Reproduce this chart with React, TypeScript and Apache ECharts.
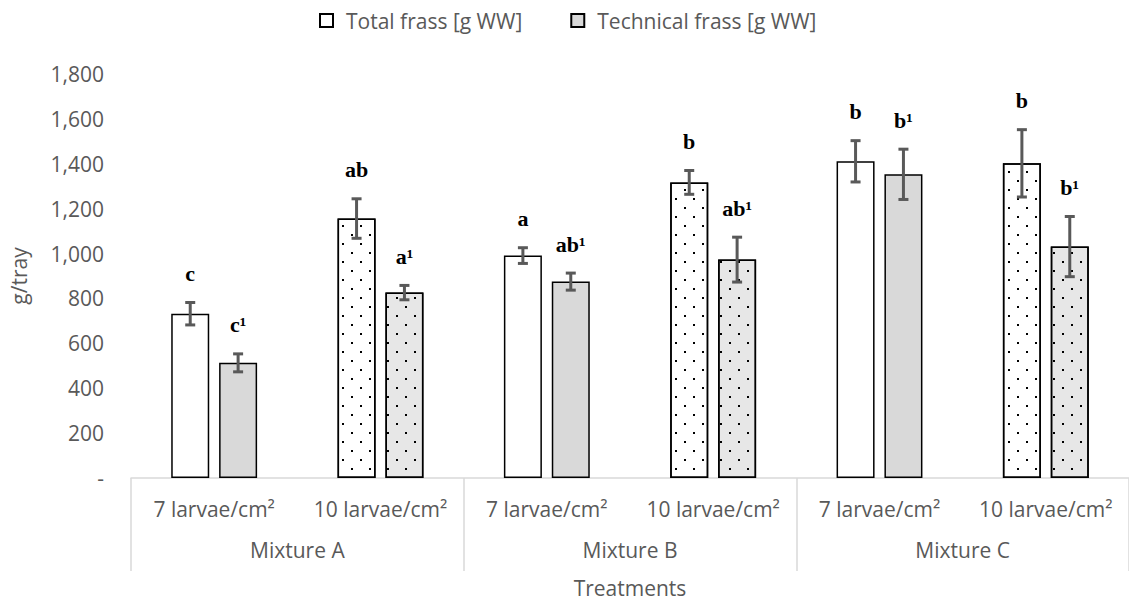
import React, { useEffect, useRef } from "react";
import * as echarts from "echarts";

const densities = ["7 larvae/cm²", "10 larvae/cm²", "7 larvae/cm²", "10 larvae/cm²", "7 larvae/cm²", "10 larvae/cm²"];
const mixtures = ["Mixture A", "Mixture B", "Mixture C"];
const yTicks = { min: 0, max: 1800, interval: 200 };

const totalValues = [732, 1156, 991, 1317, 1411, 1402];
const totalErrors = [50, 88, 35, 53, 92, 150];
const totalLetters = ["c", "ab", "a", "b", "b", "b"];

const techValues = [513, 826, 875, 973, 1353, 1031];
const techErrors = [40, 32, 38, 100, 112, 134];
const techLetters = ["c¹", "a¹", "ab¹", "ab¹", "b¹", "b¹"];

const dottedIdx = [1, 3, 5];

const SANS = "'Open Sans', 'Noto Sans', sans-serif";
const SERIF = "'Liberation Serif', 'DejaVu Serif', serif";
const TXT = "#595959";
const BAR_W = 38;
const BAR_GAP = 0.26;

const decal = {
  symbol: "rect",
  symbolSize: 1,
  color: "#000000",
  dashArrayX: [[1.6, 15.4], [0, 8.5, 1.6, 6.9]],
  dashArrayY: [1.6, 6.9],
  rotation: 0,
};

function barData(values: number[], plain: string, dotted: string) {
  return values.map((v, i) =>
    dottedIdx.includes(i)
      ? { value: v, itemStyle: { color: dotted, decal } }
      : { value: v, itemStyle: { color: plain } }
  );
}

function errSeries(values: number[], errors: number[], letters: string[], sign: number) {
  return {
    type: "custom",
    xAxisIndex: 0,
    yAxisIndex: 0,
    silent: true,
    z: 5,
    data: values.map((v, i) => [i, v, errors[i]]),
    renderItem: (params: any, api: any) => {
      const i = api.value(0);
      const v = api.value(1);
      const e = api.value(2);
      const off = sign * (BAR_W + BAR_W * BAR_GAP) / 2;
      const top = api.coord([i, v + e]);
      const bot = api.coord([i, v - e]);
      const x = top[0] + off;
      const st = { stroke: "#595959", lineWidth: 3 };
      return {
        type: "group",
        children: [
          { type: "line", shape: { x1: x, y1: top[1], x2: x, y2: bot[1] }, style: st },
          { type: "line", shape: { x1: x - 5, y1: top[1], x2: x + 5, y2: top[1] }, style: st },
          { type: "line", shape: { x1: x - 5, y1: bot[1], x2: x + 5, y2: bot[1] }, style: st },
          {
            type: "text",
            x: x,
            y: top[1] - 18,
            style: {
              text: letters[params.dataIndex],
              fontFamily: SERIF,
              fontSize: 22,
              fontWeight: "bold",
              fill: "#000",
              align: "center",
              verticalAlign: "bottom",
            },
          },
        ],
      };
    },
  };
}

export default function App() {
  const ref = useRef<HTMLDivElement>(null);
  useEffect(() => {
    if (!ref.current) return;
    const chart = echarts.init(ref.current, null, { renderer: "svg" });
    chart.setOption({
      animation: false,
      backgroundColor: "#ffffff",
      textStyle: { fontFamily: SANS },
      legend: {
        data: ["Total frass [g WW]", "Technical frass [g WW]"],
        left: 314,
        top: 5,
        itemWidth: 13,
        itemHeight: 13,
        itemGap: 48,
        icon: "rect",
        textStyle: { fontSize: 21, color: TXT, fontFamily: SANS, padding: [0, 0, 0, 8] },
      },
      grid: { left: 129, top: 74, width: 1002, height: 404, containLabel: false },
      xAxis: [
        {
          type: "category",
          data: densities,
          axisLine: { show: true, lineStyle: { color: "#d9d9d9", width: 1.5 } },
          axisTick: { show: false },
          axisLabel: { color: TXT, fontSize: 21, fontFamily: SANS, margin: 20, interval: 0 },
        },
        {
          type: "category",
          data: mixtures,
          position: "bottom",
          axisLine: { show: false },
          axisTick: { show: true, length: 93, lineStyle: { color: "#d9d9d9", width: 1.5 } },
          axisLabel: { color: TXT, fontSize: 21, fontFamily: SANS, margin: 61, interval: 0 },
          name: "Treatments",
          nameLocation: "middle",
          nameGap: 99,
          nameTextStyle: { color: TXT, fontSize: 21, fontFamily: SANS },
        },
      ],
      yAxis: {
        type: "value",
        min: yTicks.min,
        max: yTicks.max,
        interval: yTicks.interval,
        splitLine: { show: false },
        axisLine: { show: false },
        axisTick: { show: false },
        axisLabel: {
          color: TXT,
          fontSize: 21,
          fontFamily: SANS,
          margin: 27,
          formatter: (v: number) => (v === 0 ? "-" : v.toLocaleString("en-US")),
        },
        name: "g/tray",
        nameLocation: "middle",
        nameGap: 102,
        nameRotate: 90,
        nameTextStyle: { color: TXT, fontSize: 21, fontFamily: SANS },
      },
      series: [
        {
          name: "Total frass [g WW]",
          type: "bar",
          barWidth: BAR_W,
          barGap: BAR_GAP * 100 + "%",
          itemStyle: { color: "#ffffff", borderColor: "#000000", borderWidth: 1.5 },
          data: barData(totalValues, "#ffffff", "#ffffff"),
        },
        {
          name: "Technical frass [g WW]",
          type: "bar",
          barWidth: BAR_W,
          barGap: BAR_GAP * 100 + "%",
          itemStyle: { color: "#d9d9d9", borderColor: "#000000", borderWidth: 1.5 },
          data: barData(techValues, "#d9d9d9", "#e7e7e7"),
        },
        errSeries(totalValues, totalErrors, totalLetters, -1),
        errSeries(techValues, techErrors, techLetters, 1),
      ],
    });
    return () => chart.dispose();
  }, []);
  return <div ref={ref} style={{ width: 1129, height: 606, position: "absolute", left: 0, top: 0 }} />;
}
